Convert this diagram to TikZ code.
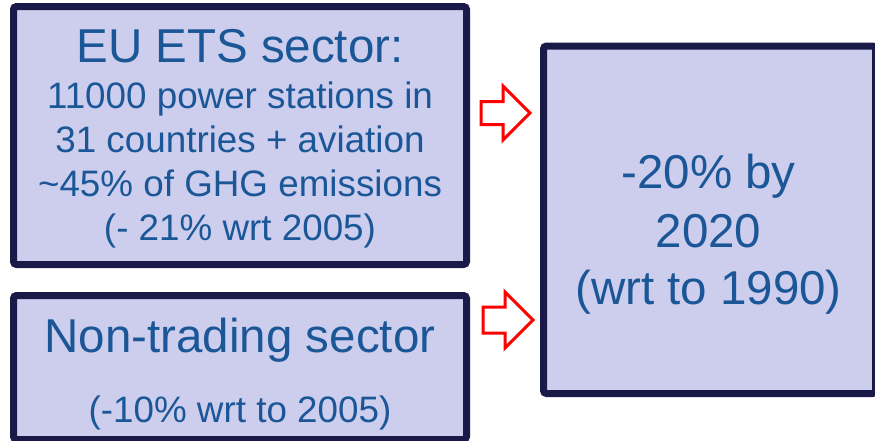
\documentclass[tikz,border=0pt]{standalone}
\usepackage{fontspec}
\setmainfont{Liberation Sans}
\definecolor{boxfill}{HTML}{CDCDEE}
\definecolor{boxline}{HTML}{1A1A48}
\definecolor{txtblue}{HTML}{1B5797}
\begin{document}
\begin{tikzpicture}[x=1pt,y=-1pt,
  box/.style={draw=boxline,fill=boxfill,line width=7pt,rounded corners=3pt,
    anchor=north west,inner sep=0pt,outer sep=0pt},
  big/.style={font=\fontsize{47.5}{58}\selectfont,text=txtblue,anchor=base,inner sep=0pt},
  small/.style={font=\fontsize{36.8}{44}\selectfont,text=txtblue,anchor=base,inner sep=0pt},
  blockarrow/.style={draw=red,fill=white,line width=3pt,line join=miter}]
\useasboundingbox (0,0) rectangle (875,440);
% boxes
\node[box,minimum width=453pt,minimum height=258pt] (ets) at (13.5,6.5) {};
\node[box,minimum width=453pt,minimum height=144pt] (nts) at (13.5,295.5) {};
\node[box,minimum width=332pt,minimum height=347.5pt] (goal) at (543.5,46) {};
% texts of the ETS box
\node[big]   (ets1) at (240,62)  {EU ETS sector:};
\node[small] (ets2) at (240,108) {11000 power stations in};
\node[small] (ets3) at (240,152) {31 countries + aviation};
\node[small] (ets4) at (240,196) {\textasciitilde 45\% of GHG emissions};
\node[small] (ets5) at (240,240) {(- 21\% wrt 2005)};
% texts of the non-trading box
\node[big]   (nts1) at (240,352) {Non-trading sector};
\node[small] (nts2) at (240,422) {(-10\% wrt to 2005)};
% texts of the goal box
\node[big] (goal1) at (708.5,188) {-20\% by};
\node[big] (goal2) at (708.5,247) {2020};
\node[big] (goal3) at (708.5,304) {(wrt to 1990)};
% block arrows
\draw[blockarrow] (481,101.5) -- (503,101.5) -- (503,86) -- (530,113)
  -- (503,140) -- (503,124.5) -- (481,124.5) -- cycle;
\draw[blockarrow] (483,307) -- (505,307) -- (505,292) -- (533,320)
  -- (505,348) -- (505,333) -- (483,333) -- cycle;
\end{tikzpicture}
\end{document}
